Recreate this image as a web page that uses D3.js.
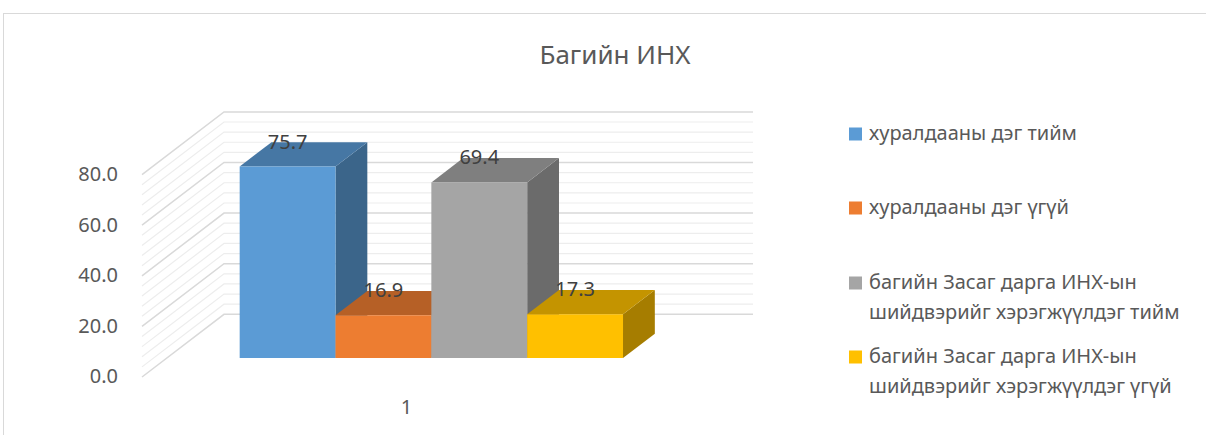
<!DOCTYPE html>
<html>
<head>
<meta charset="utf-8">
<script src="https://cdn.jsdelivr.net/npm/d3@7"></script>
<style>
  body { margin: 0; background: #fff; }
  svg { display: block; font-family: "Noto Sans", "Open Sans", sans-serif; }
</style>
</head>
<body>
<svg></svg>
<script>
const width = 1206;
const height = 435;

const categories = ["1"];
const seriesNames = [
  "хуралдааны дэг тийм",
  "хуралдааны дэг үгүй",
  "багийн Засаг дарга ИНХ-ын шийдвэрийг хэрэгжүүлдэг тийм",
  "багийн Засаг дарга ИНХ-ын шийдвэрийг хэрэгжүүлдэг үгүй"
];
const legendLines = [
  ["хуралдааны дэг тийм"],
  ["хуралдааны дэг үгүй"],
  ["багийн Засаг дарга ИНХ-ын", "шийдвэрийг хэрэгжүүлдэг тийм"],
  ["багийн Засаг дарга ИНХ-ын", "шийдвэрийг хэрэгжүүлдэг үгүй"]
];
const values = [75.7, 16.9, 69.4, 17.3];
const colors = ["#5B9BD5", "#ED7D31", "#A5A5A5", "#FFC000"];
const yTicks = [0, 20, 40, 60, 80];

// oblique depth offset (full depth of the plot box)
const depthX = 82;
const depthY = 62.7;
const barFront = 0.303;
const barBack = 0.691;

const svg = d3.select("svg")
  .attr("width", width)
  .attr("height", height);

// chart border
svg.append("rect")
  .attr("x", 3.5).attr("y", 13.5)
  .attr("width", width + 10).attr("height", height + 10)
  .attr("fill", "none")
  .attr("stroke", "#D9D9D9");

const yScale = d3.scaleLinear()
  .domain([0, 80])
  .range([377, 174.6]);

const xScale = d3.scaleBand()
  .domain(categories)
  .range([142, 671])
  .paddingInner(0)
  .paddingOuter(0.19);

const xSeries = d3.scaleBand()
  .domain(seriesNames)
  .range([0, xScale.bandwidth()]);

const proj = (x, y, d) => [x + d * depthX, y - d * depthY];

// gridlines: minor every 4, major every 20
const grid = svg.append("g");
const gridVals = d3.range(0, 80.01, 4);
gridVals.forEach(v => {
  const major = v % 20 === 0;
  const y = yScale(v);
  const a = proj(142, y, 0), b = proj(142, y, 1), c = proj(671, y, 1);
  grid.append("path")
    .attr("d", d3.line()([a, b, c]))
    .attr("fill", "none")
    .attr("stroke", major ? "#D9D9D9" : "#EDEDED")
    .attr("stroke-width", major ? 1.5 : 1.2);
});

// y axis labels
svg.append("g")
  .selectAll("text")
  .data(yTicks)
  .join("text")
    .attr("x", 118)
    .attr("y", d => yScale(d) + 1)
    .attr("text-anchor", "end")
    .attr("dominant-baseline", "middle")
    .attr("fill", "#595959")
    .style("font-size", "20px")
    .text(d => d.toFixed(1));

// bars
const shade = (c, k) => {
  const r = d3.rgb(c);
  return d3.rgb(r.r * k, r.g * k, r.b * k).formatHex();
};

const bars = svg.append("g");
seriesNames.forEach((s, i) => {
  const x0 = xScale(categories[0]) + xSeries(s);
  const x1 = x0 + xSeries.bandwidth();
  const yb = yScale(0), yt = yScale(values[i]);
  const g = bars.append("g");
  const front = [proj(x0, yb, barFront), proj(x1, yb, barFront), proj(x1, yt, barFront), proj(x0, yt, barFront)];
  const top = [proj(x0, yt, barFront), proj(x1, yt, barFront), proj(x1, yt, barBack), proj(x0, yt, barBack)];
  const side = [proj(x1, yb, barFront), proj(x1, yb, barBack), proj(x1, yt, barBack), proj(x1, yt, barFront)];
  g.append("path").attr("d", d3.line()(side) + "Z").attr("fill", shade(colors[i], 0.65));
  g.append("path").attr("d", d3.line()(top) + "Z").attr("fill", shade(colors[i], 0.77));
  g.append("path").attr("d", d3.line()(front) + "Z").attr("fill", colors[i]);
});

// value labels
svg.append("g")
  .selectAll("text")
  .data(values)
  .join("text")
    .attr("x", (d, i) => proj(xScale(categories[0]) + xSeries(seriesNames[i]) + xSeries.bandwidth() / 2, 0, barFront)[0])
    .attr("y", d => proj(0, yScale(d), barBack)[1] + 1)
    .attr("text-anchor", "middle")
    .attr("dominant-baseline", "middle")
    .attr("fill", "#404040")
    .style("font-size", "20px")
    .text(d => d.toFixed(1));

// category label
svg.append("text")
  .attr("x", xScale(categories[0]) + xScale.bandwidth() / 2)
  .attr("y", 409)
  .attr("text-anchor", "middle")
  .attr("dominant-baseline", "middle")
  .attr("fill", "#595959")
  .style("font-size", "20px")
  .text(categories[0]);

// title
svg.append("text")
  .attr("x", 615)
  .attr("y", 57)
  .attr("text-anchor", "middle")
  .attr("dominant-baseline", "middle")
  .attr("fill", "#595959")
  .style("font-size", "26px")
  .text("Багийн ИНХ");

// legend
const legendY = [134, 208, 283, 357];
const legend = svg.append("g");
legendLines.forEach((lines, i) => {
  legend.append("rect")
    .attr("x", 849).attr("y", legendY[i] - 6.5)
    .attr("width", 13).attr("height", 13)
    .attr("fill", colors[i]);
  lines.forEach((t, j) => {
    legend.append("text")
      .attr("x", 869)
      .attr("y", legendY[i] + j * 30 + 1)
      .attr("dominant-baseline", "middle")
      .attr("fill", "#595959")
      .style("font-size", "20px")
      .text(t);
  });
});
</script>
</body>
</html>
